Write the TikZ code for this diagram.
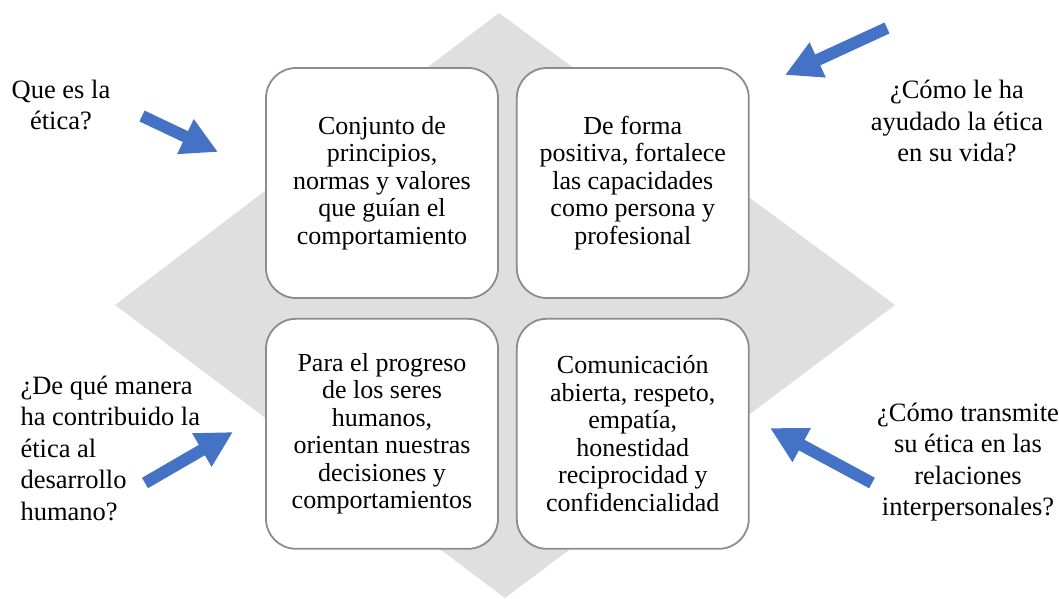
\documentclass[tikz,border=0pt]{standalone}
\usepackage{fontspec}
\setmainfont{Liberation Serif}
\usetikzlibrary{arrows.meta, positioning}
\definecolor{diamondgray}{RGB}{223,223,223}
\definecolor{boxborder}{RGB}{140,140,140}
\definecolor{arrowblue}{RGB}{68,114,196}

\begin{document}
\begin{tikzpicture}[x=1pt, y=-1pt]
			\tikzset {ethicbox/.style={draw=boxborder, line width=1.8pt, fill=white, rounded corners=30pt, minimum width=232pt, minimum height=230pt, align=center, font=\fontsize{26}{27.5}\selectfont},
				question/.style={align=center, font=\fontsize{26.5}{31.5}\selectfont},
				blockarrow/.style={draw=arrowblue, line width=12pt, -{Triangle[length=36pt, width=36pt, fill=arrowblue]}} }
			\useasboundingbox (0,0) rectangle (1059,599);
			
			\fill[diamondgray] (499,13) -- (895,305) -- (505,598) -- (115,305) -- cycle;
			
			\node[ethicbox] (what) at (382,183) {Conjunto de\\principios,\\normas y valores\\que guían el\\comportamiento};
			\node[ethicbox, right=17pt of what] (help) {De forma\\positiva, fortalece\\las capacidades\\como persona y\\profesional};
			\node[ethicbox, below=19pt of what] (progress) {Para el progreso\\de los seres\\humanos,\\orientan nuestras\\decisiones y\\comportamientos};
			\node[ethicbox, right=17pt of progress] (relations) {Comunicación\\abierta, respeto,\\empatía,\\honestidad\\reciprocidad y\\confidencialidad};
			
			\node[question] (qwhat) at (61,105) {Que es la\\ética?};
			\node[question] (qhelp) at (957,121) {¿Cómo le ha\\ayudado la ética\\en su vida?};
			\node[question, align=left, anchor=west] (qprogress) at (17,448) {¿De qué manera\\ha contribuido la\\ética al\\desarrollo\\humano?};
			\node[question] (qrelations) at (968,462) {¿Cómo transmite\\su ética en las\\relaciones\\interpersonales?};
			
			% block arrows pointing at the diamond
			\coordinate (whattail) at (142,116);
			\coordinate (whattip) at (218,152);
			\coordinate (helptail) at (887,28);
			\coordinate (helptip) at (785,75);
			\coordinate (progresstail) at (145,483);
			\coordinate (progresstip) at (233,432);
			\coordinate (relationstail) at (872,483);
			\coordinate (relationstip) at (770,428);
			\draw[blockarrow] (whattail) -- (whattip);
			\draw[blockarrow] (helptail) -- (helptip);
			\draw[blockarrow] (progresstail) -- (progresstip);
			\draw[blockarrow] (relationstail) -- (relationstip);
		\end{tikzpicture}
\end{document}
